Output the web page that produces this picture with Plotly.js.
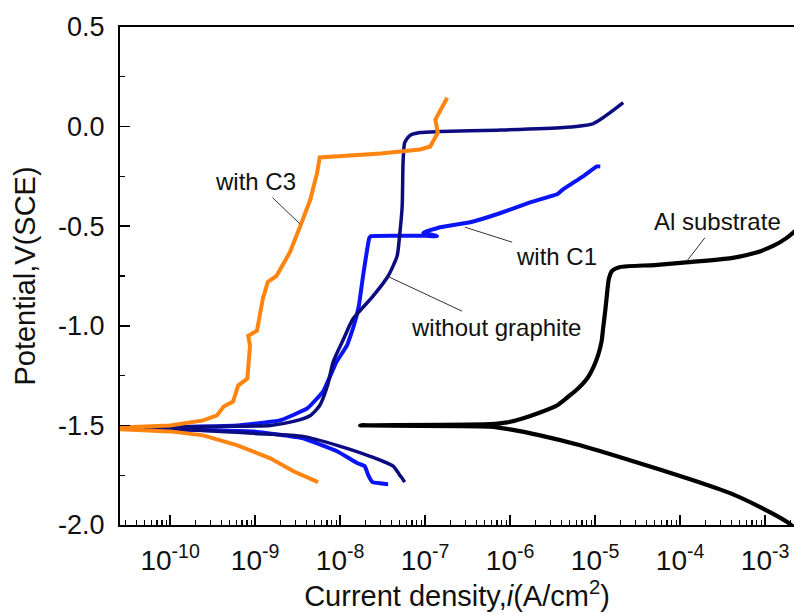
<!DOCTYPE html>
<html>
<head>
<meta charset="utf-8">
<script src="https://cdn.plot.ly/plotly-3.0.1.min.js"></script>
<style>
  html, body { margin: 0; padding: 0; background: #fff; }
  #chart { width: 794px; height: 615px; }
</style>
</head>
<body>
<div id="chart"></div>
<script>
// ---- Data (current density in A/cm^2, potential in V vs SCE) ----
// Al substrate: cathodic end -> corrosion potential -> anodic end
const alCurrent = [2.3e-3, 1.82e-3, 8.73e-4, 3.87e-4, 1.31e-4, 2.8e-5, 6.67e-6, 2.25e-6, 1.0e-6, 5.82e-7,
  1.72e-8, 5.82e-7, 9.2e-7, 1.4e-6, 2.25e-6, 3.55e-6, 4.7e-6, 6.3e-6, 8.05e-6, 9.5e-6, 1.08e-5,
  1.19e-5, 1.24e-5, 1.32e-5, 1.38e-5, 1.45e-5, 1.58e-5, 1.97e-5, 5.0e-5, 1.26e-4, 4.0e-4,
  7.9e-4, 1.26e-3, 1.78e-3, 2.4e-3];
const alPotential = [-2.02, -1.985, -1.91, -1.84, -1.77, -1.68, -1.60, -1.55, -1.52, -1.506,
  -1.50, -1.494, -1.485, -1.465, -1.435, -1.40, -1.36, -1.315, -1.265, -1.21, -1.15,
  -1.08, -1.015, -0.92, -0.84, -0.765, -0.725, -0.705, -0.695, -0.68, -0.66,
  -0.632, -0.598, -0.56, -0.515];

// without graphite
const ngCurrent = [5.75e-8, 5.37e-8, 5.13e-8, 4.2e-8, 2.25e-8, 9.2e-9, 3.67e-9, 9.5e-10, 3.9e-10,
  8.3e-11, 5.0e-11,
  8.3e-11, 3.9e-10, 1.51e-9, 2.82e-9, 4.47e-9, 5.75e-9, 7.1e-9, 8.3e-9, 1.1e-8, 1.42e-8,
  2.45e-8, 3.67e-8, 4.68e-8, 5.0e-8, 5.37e-8, 5.5e-8, 5.75e-8, 6.6e-8, 8.7e-8, 1.51e-7,
  7.1e-7, 4.2e-6, 9.5e-6, 2.14e-5];
const ngPotential = [-1.785, -1.765, -1.755, -1.705, -1.655, -1.60, -1.555, -1.54, -1.53,
  -1.515, -1.513,
  -1.51, -1.505, -1.50, -1.48, -1.45, -1.40, -1.30, -1.18, -1.065, -0.965,
  -0.85, -0.75, -0.65, -0.55, -0.40, -0.18, -0.08, -0.045, -0.03, -0.025,
  -0.018, -0.005, 0.015, 0.12];

// with C1
const c1Current = [3.67e-8, 2.4e-8, 2.14e-8, 1.95e-8, 1.6e-8, 9.2e-9, 3.67e-9, 9.5e-10, 3.9e-10,
  8.3e-11, 5.0e-11,
  8.3e-11, 6.2e-10, 1.95e-9, 4.1e-9, 6.3e-9, 9.1e-9, 1.2e-8, 1.45e-8, 1.66e-8, 1.86e-8,
  2.2e-8, 2.3e-8, 5.0e-8, 1.0e-7, 1.38e-7, 9.5e-8, 1.51e-7, 3.4e-7, 7.0e-7, 1.72e-6,
  3.57e-6, 4.2e-6, 7.2e-6, 1.05e-5, 1.15e-5];
const c1Potential = [-1.795, -1.785, -1.75, -1.705, -1.69, -1.63, -1.565, -1.53, -1.525,
  -1.52, -1.517,
  -1.51, -1.50, -1.475, -1.415, -1.33, -1.18, -1.10, -1.0, -0.90, -0.75,
  -0.56, -0.55, -0.548, -0.548, -0.55, -0.532, -0.505, -0.48, -0.44, -0.38,
  -0.34, -0.315, -0.25, -0.20, -0.20];

// with C3
const c3Current = [5.5e-9, 2.82e-9, 1.51e-9, 6.2e-10, 2.45e-10, 1.0e-10, 2.6e-11,
  2.6e-11, 1.0e-10, 2.45e-10, 3.55e-10, 4.27e-10, 5.5e-10, 6.3e-10, 8.1e-10, 8.3e-10,
  8.7e-10, 8.3e-10, 1.05e-9, 1.23e-9, 1.41e-9, 1.78e-9, 2.57e-9, 3.39e-9, 4.47e-9,
  5.37e-9, 5.75e-9, 3.0e-8, 8.7e-8, 1.15e-7, 1.41e-7, 1.32e-7, 1.82e-7];
const c3Potential = [-1.785, -1.73, -1.665, -1.60, -1.55, -1.53, -1.52,
  -1.51, -1.50, -1.475, -1.45, -1.405, -1.38, -1.30, -1.265, -1.18,
  -1.10, -1.05, -1.025, -0.865, -0.78, -0.75, -0.63, -0.50, -0.365,
  -0.23, -0.155, -0.135, -0.115, -0.10, -0.03, 0.035, 0.145];

const xTickVals = [1e-10, 1e-9, 1e-8, 1e-7, 1e-6, 1e-5, 1e-4, 1e-3];
const xTickText = ['10<sup>-10</sup>', '10<sup>-9</sup>', '10<sup>-8</sup>', '10<sup>-7</sup>',
  '10<sup>-6</sup>', '10<sup>-5</sup>', '10<sup>-4</sup>', '10<sup>-3</sup>'];
const yTickVals = [0.5, 0.0, -0.5, -1.0, -1.5, -2.0];
const yTickText = ['0.5', '0.0', '-0.5', '-1.0', '-1.5', '-2.0'];

// ---- Figure ----
const FONT = 'Liberation Sans, Arial, Helvetica, sans-serif';
const mk = (x, y, color, width, shape, smoothing) => ({
  x: x, y: y, type: 'scatter', mode: 'lines',
  line: { color: color, width: width, shape: shape, smoothing: smoothing },
  hoverinfo: 'skip', showlegend: false
});

const traces = [
  mk(c1Current, c1Potential, '#0a14f5', 4, 'spline', 0.3),
  mk(ngCurrent, ngPotential, '#0c0c80', 3.5, 'spline', 0.6),
  mk(alCurrent, alPotential, '#000000', 4.2, 'spline', 0.6),
  mk(c3Current, c3Potential, '#ff8410', 4, 'linear', 0)
];

const annFont = { family: FONT, size: 24, color: '#111' };
const ann = (text, x, y, ax, ay) => ({
  text: text, x: Math.log10(x), y: y, xref: 'x', yref: 'y',
  ax: ax, ay: ay, showarrow: true, arrowhead: 0, arrowwidth: 1,
  arrowcolor: '#333', startstandoff: 2, font: annFont
});

const layout = {
  width: 794, height: 615,
  margin: { l: 120, r: 0, t: 27, b: 90 },
  paper_bgcolor: '#fff', plot_bgcolor: '#fff',
  font: { family: FONT, color: '#111' },
  xaxis: {
    type: 'log', range: [-10.59, -2.66],
    tickmode: 'array', tickvals: xTickVals, ticktext: xTickText,
    ticks: 'inside', ticklen: 10, tickwidth: 1.5, tickcolor: '#000',
    minor: { dtick: 'D1', ticks: 'inside', ticklen: 5, tickwidth: 1.2, tickcolor: '#000', showgrid: false },
    showline: true, linecolor: '#000', linewidth: 2, mirror: true,
    showgrid: false, zeroline: false,
    tickfont: { family: FONT, size: 28, color: '#111' },
    ticklabelstandoff: 9,
    title: { text: 'Current density,<i>i</i>(A/cm<sup>2</sup>)', font: { family: FONT, size: 29, color: '#111' }, standoff: 10 },
    automargin: false
  },
  yaxis: {
    range: [-2.0, 0.5],
    tickmode: 'array', tickvals: yTickVals, ticktext: yTickText,
    ticks: 'inside', ticklen: 10, tickwidth: 1.5, tickcolor: '#000',
    minor: { dtick: 0.25, tick0: 0, ticks: 'inside', ticklen: 5, tickwidth: 1.2, tickcolor: '#000', showgrid: false },
    showline: true, linecolor: '#000', linewidth: 2, mirror: false,
    showgrid: false, zeroline: false,
    tickfont: { family: FONT, size: 27, color: '#111' },
    ticklabelstandoff: 8,
    title: { text: 'Potential,V(SCE)', font: { family: FONT, size: 29, color: '#111' }, standoff: 14 },
    automargin: false
  },
  annotations: [
    ann('with C3', 3.4e-9, -0.49, -45, -43),
    ann('with C1', 2.95e-7, -0.505, 91, 29),
    ann('without graphite', 3.55e-8, -0.75, 109, 51),
    ann('Al substrate', 1.2e-4, -0.675, 31, -40)
  ]
};

Plotly.newPlot('chart', traces, layout, { displayModeBar: false, staticPlot: true });
</script>
</body>
</html>
